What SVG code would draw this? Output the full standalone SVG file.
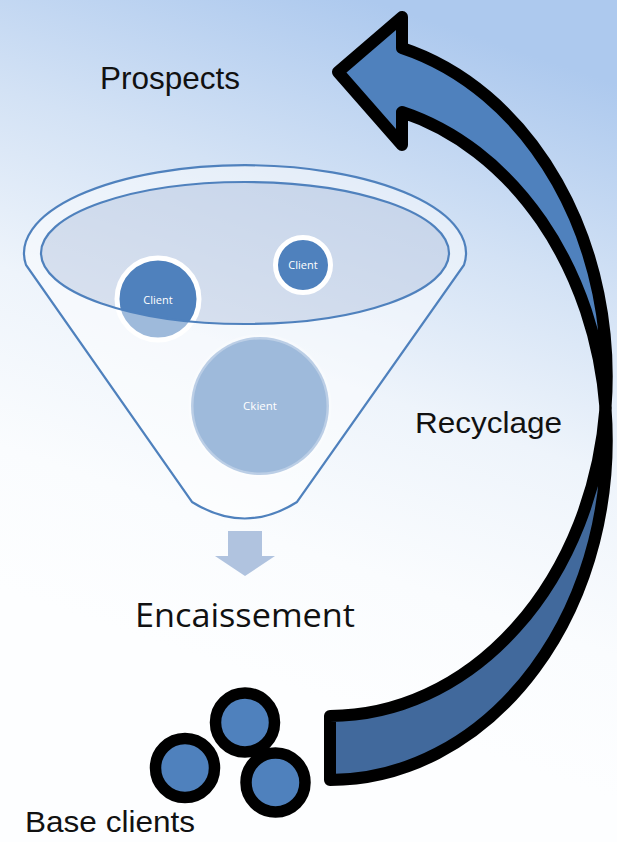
<svg xmlns="http://www.w3.org/2000/svg" width="617" height="842" viewBox="0 0 617 842">
  <defs>
    <linearGradient id="sky" x1="0.6" y1="0" x2="0.4" y2="0.8">
      <stop offset="0" stop-color="#adc9ee"/>
      <stop offset="0.3" stop-color="#d3e2f5"/>
      <stop offset="0.55" stop-color="#eef4fb"/>
      <stop offset="0.8" stop-color="#fafcfe"/>
      <stop offset="1" stop-color="#fdfeff"/>
    </linearGradient>
    <style>
      .lbl { font-family: "Liberation Sans", Arial, sans-serif; fill: #111; }
      .enc { font-family: "Open Sans", "Liberation Sans", sans-serif; fill: #111; }
      .ctext { font-family: "Open Sans", "Liberation Sans", sans-serif; fill: #ffffff; font-size: 11px; text-anchor: middle; }
      .client { fill: #4f81bd; stroke: #ffffff; stroke-width: 5; }
      .funnel-line { fill: none; stroke: #4f81bd; stroke-width: 2.2; }
      .arrow { stroke: #000; stroke-width: 12; stroke-linejoin: round; }
      .base { fill: #4f81bd; stroke: #000; stroke-width: 11.5; }
    </style>
  </defs>

  <!-- background -->
  <rect x="0" y="0" width="617" height="842" fill="url(#sky)"/>

  <!-- funnel with its client bubbles -->
  <g id="funnel">
    <!-- opening surface -->
    <ellipse cx="245" cy="253" rx="204" ry="71" fill="#bfcce2" fill-opacity="0.5"/>
  </g>

  <g id="client-left">
    <circle class="client" cx="158" cy="299" r="41"/>
    <text class="ctext" x="158" y="304">Client</text>
  </g>
  <g id="client-right">
    <circle class="client" cx="303" cy="265" r="27.5"/>
    <text class="ctext" x="303" y="269">Client</text>
  </g>
  <g id="client-big">
    <circle class="client" cx="260" cy="406" r="69" stroke-opacity="0.3"/>
    <text class="ctext" x="260" y="410" style="font-size:11.5px">Ckient</text>
  </g>

  <g id="funnel-body">
    <!-- body veil: funnel outline minus the opening -->
    <path fill="#ffffff" fill-opacity="0.45" fill-rule="evenodd"
          d="M 26,265 A 221 88 0 1 1 464,265 L 297,502 Q 245,535 192,502 Z
             M 41,253 A 204 71 0 0 0 449,253 A 204 71 0 0 0 41,253 Z"/>
    <path class="funnel-line" d="M 26,265 A 221 88 0 1 1 464,265 L 297,502 Q 245,535 192,502 Z"/>
    <ellipse class="funnel-line" cx="245" cy="253" rx="204" ry="71"/>
  </g>

  <!-- output arrow under the funnel -->
  <g id="drop-arrow">
    <path fill="#b0c3df" d="M 228,531 L 262,531 L 262,556 L 275,556 L 245,576 L 215,556 L 228,556 Z"/>
  </g>

  <g id="label-encaissement">
    <text class="enc" x="135" y="627" font-size="32" textLength="220" lengthAdjust="spacingAndGlyphs">Encaissement</text>
  </g>

  <g id="base-clients">
    <circle class="base" cx="245" cy="722.5" r="29.5"/>
    <circle class="base" cx="185" cy="768" r="29.5"/>
    <circle class="base" cx="275.5" cy="782.5" r="29.5"/>
    <text class="lbl" x="25" y="832" font-size="29" textLength="170" lengthAdjust="spacingAndGlyphs">Base clients</text>
  </g>

  <g id="label-prospects">
    <text class="lbl" x="100" y="89" font-size="32" textLength="140" lengthAdjust="spacingAndGlyphs">Prospects</text>
  </g>

  <g id="label-recyclage">
    <text class="lbl" x="415" y="433" font-size="30" textLength="147" lengthAdjust="spacingAndGlyphs">Recyclage</text>
  </g>

  <!-- curved recycling arrow: back half, then front half with head -->
  <g id="connectors">
    <path class="arrow" fill="#41699c"
          d="M 605.5,408 A 277 340 0 0 1 330,716 L 330,780 A 277 340 0 0 0 605.5,408 Z"/>
    <path class="arrow" fill="#4f81bd"
          d="M 338,72 L 402,17 L 402,48 A 277 340 0 0 1 605.5,408 A 277 340 0 0 0 402,112 L 402,145 Z"/>
  </g>
</svg>
